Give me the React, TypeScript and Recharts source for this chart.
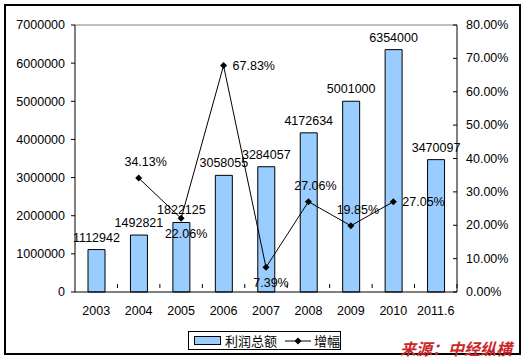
import {
  ComposedChart,
  Bar,
  Line,
  XAxis,
  YAxis,
  LabelList,
  ReferenceLine,
} from 'recharts'

const years = ['2003', '2004', '2005', '2006', '2007', '2008', '2009', '2010', '2011.6']
const profit = [1112942, 1492821, 1822125, 3058055, 3284057, 4172634, 5001000, 6354000, 3470097]
const growth = [null, 0.3413, 0.2206, 0.6783, 0.0739, 0.2706, 0.1985, 0.2705, null]
const leftTicks = [0, 1000000, 2000000, 3000000, 4000000, 5000000, 6000000, 7000000]
const rightTicks = [0, 0.1, 0.2, 0.3, 0.4, 0.5, 0.6, 0.7, 0.8]

// where each growth label sits relative to its point
const growthLabelPos = ['', 'above', 'below', 'right', 'below', 'above', 'above', 'right', '']

const data = years.map((year, i) => ({
  year,
  profit: profit[i],
  growth: growth[i],
}))

const FONT = '"Liberation Sans", Arial, sans-serif'
const CJK = '"Noto Sans CJK SC", sans-serif'

function pct(v: number) {
  return `${(v * 100).toFixed(2)}%`
}

function GrowthLabel(props: any) {
  const { x, y, value, index } = props
  if (value == null) return null
  const pos = growthLabelPos[index]
  let tx = x + 9
  let ty = y
  let anchor: 'start' | 'middle' = 'start'
  if (pos === 'above') {
    tx = x + 7
    ty = y - 16
    anchor = 'middle'
  } else if (pos === 'below') {
    tx = x + 5
    ty = y + 16
    anchor = 'middle'
  }
  return (
    <text
      x={tx}
      y={ty}
      textAnchor={anchor}
      dominantBaseline="central"
      fontSize={12.5}
      fontFamily={FONT}
      fill="#000"
    >
      {pct(value)}
    </text>
  )
}

function Diamond(props: any) {
  const { cx, cy } = props
  if (cx == null || cy == null) return null
  return <path d={`M${cx} ${cy - 3.5}L${cx + 3.5} ${cy}L${cx} ${cy + 3.5}L${cx - 3.5} ${cy}Z`} fill="#000" />
}

function YearTick(props: any) {
  const { x, y, payload } = props
  const band = 382 / years.length
  return (
    <g>
      <line x1={x + band / 2} y1={y - 12} x2={x + band / 2} y2={y - 16} stroke="#000" />
      <text x={x} y={y + 15} textAnchor="middle" fontSize={12.5} fontFamily={FONT} fill="#000">
        {payload.value}
      </text>
    </g>
  )
}

function RightTick(props: any) {
  const { x, y, payload } = props
  return (
    <g>
      <line x1={x - 13} y1={y} x2={x - 9} y2={y} stroke="#000" />
      <text x={x} y={y} dominantBaseline="central" fontSize={12.5} fontFamily={FONT} fill="#000">
        {pct(payload.value)}
      </text>
    </g>
  )
}

export default function App() {
  return (
    <div
      style={{
        position: 'absolute',
        left: 0,
        top: 0,
        width: 524,
        height: 361,
        background: '#fff',
        fontFamily: FONT,
      }}
    >
      <div
        style={{
          position: 'absolute',
          left: 4,
          top: 4,
          width: 513,
          height: 347,
          border: '2px solid #000',
        }}
      />
      <div style={{ position: 'absolute', left: 0, top: 0 }}>
        <ComposedChart
          width={524}
          height={361}
          data={data}
          margin={{ top: 25, right: 7, bottom: 39, left: 15 }}
        >
          <XAxis
            dataKey="year"
            xAxisId="x"
            height={30}
            stroke="#000"
            tickLine={false}
            tick={<YearTick />}
            interval={0}
          />
          <YAxis
            yAxisId="left"
            width={60}
            domain={[0, 7000000]}
            ticks={leftTicks}
            stroke="#000"
            tickSize={4}
            tickMargin={6}
            tick={{ fontSize: 12.5, fill: '#000', fontFamily: FONT }}
          />
          <YAxis
            yAxisId="right"
            orientation="right"
            width={60}
            domain={[0, 0.8]}
            ticks={rightTicks}
            stroke="#000"
            tickSize={0}
            tickMargin={9}
            tick={<RightTick />}
          />
          <ReferenceLine yAxisId="left" xAxisId="x" y={7000000} stroke="#808080" />
          <Bar
            dataKey="profit"
            xAxisId="x"
            yAxisId="left"
            barSize={17}
            fill="#99ccff"
            stroke="#000"
            strokeWidth={1}
            isAnimationActive={false}
          >
            <LabelList
              dataKey="profit"
              position="top"
              offset={8}
              fontSize={12.5}
              fontFamily={FONT}
              fill="#000"
            />
          </Bar>
          <Line
            dataKey="growth"
            xAxisId="x"
            yAxisId="right"
            stroke="#000"
            strokeWidth={1}
            dot={<Diamond />}
            activeDot={false}
            isAnimationActive={false}
          >
            <LabelList dataKey="growth" content={<GrowthLabel />} />
          </Line>
        </ComposedChart>
      </div>
      <div
        style={{
          position: 'absolute',
          left: 188,
          top: 331,
          width: 153,
          height: 19,
          border: '1px solid #000',
          boxSizing: 'border-box',
          display: 'flex',
          alignItems: 'center',
          fontFamily: CJK,
          fontSize: 13,
          color: '#000',
        }}
      >
        <span
          style={{
            display: 'inline-block',
            marginLeft: 5,
            width: 25,
            height: 7,
            background: '#99ccff',
            border: '1px solid #000',
          }}
        />
        <span style={{ marginLeft: 4 }}>利润总额</span>
        <svg width={26} height={10} style={{ marginLeft: 8 }}>
          <line x1={0} y1={5} x2={26} y2={5} stroke="#000" />
          <path d="M13 1.5L16.5 5L13 8.5L9.5 5Z" fill="#000" />
        </svg>
        <span style={{ marginLeft: 3 }}>增幅</span>
      </div>
      <div
        style={{
          position: 'absolute',
          left: 400,
          top: 339,
          fontFamily: CJK,
          fontSize: 16,
          fontWeight: 'bold',
          fontStyle: 'italic',
          color: '#c8282a',
          lineHeight: '18px',
          whiteSpace: 'nowrap',
        }}
      >
        来源：中经纵横
      </div>
    </div>
  )
}
